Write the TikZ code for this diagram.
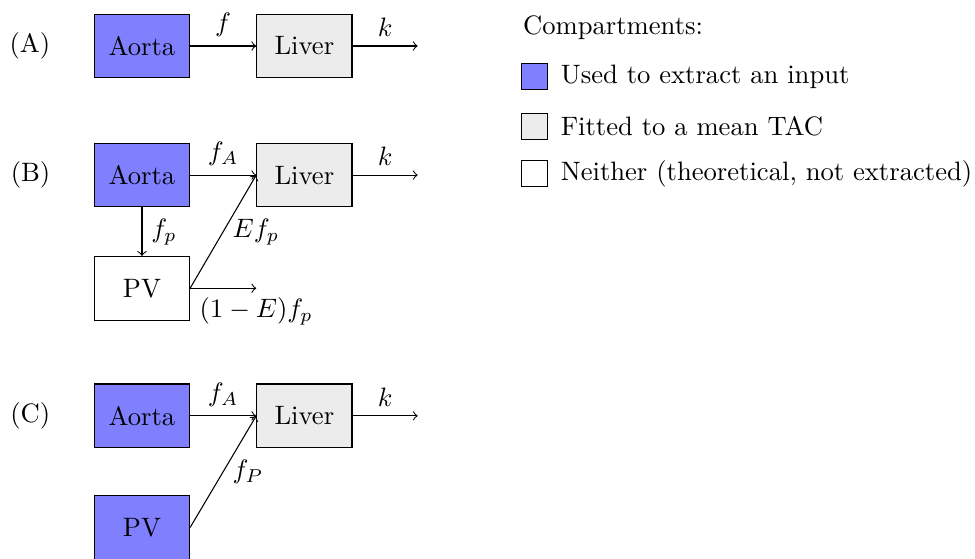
\documentclass[tikz,border=0pt]{standalone}
\usetikzlibrary{positioning}
\begin{document}
\begin{tikzpicture}[
  node distance=0.85cm and 0.873cm,
  comp/.style={draw, minimum width=1.257cm, minimum height=0.84cm, inner sep=3pt},
  input/.style={comp, fill=blue!50},
  fitted/.style={comp, fill=gray!15},
  neither/.style={comp, fill=white},
  swatch/.style={draw, minimum size=0.343cm, inner sep=0pt},
  arr/.style={->}
]
  \useasboundingbox (0,0) rectangle (12.87,-7.366);

  % (A)
  \node[input] (aortaA) at (1.874,-0.607) {Aorta};
  \node[fitted, right=of aortaA] (liverA) {Liver};
  \node[left=0.45cm of aortaA] (labA) {(A)};
  \coordinate[right=0.86cm of liverA] (outA);
  \draw[arr] (aortaA) -- node[above] {$f$} (liverA);
  \draw[arr] (liverA) -- node[above] {$k$} (outA);

  % (B)
  \node[input, below=of aortaA] (aortaB) {Aorta};
  \node[fitted, right=of aortaB] (liverB) {Liver};
  \node[neither, below=0.64cm of aortaB] (pvB) {PV};
  \node[left=0.45cm of aortaB] (labB) {(B)};
  \coordinate[right=0.86cm of liverB] (outB);
  \coordinate[right=0.873cm of pvB] (lossB);
  \draw[arr] (aortaB) -- node[above] {$f_A$} (liverB);
  \draw[arr] (liverB) -- node[above] {$k$} (outB);
  \draw[arr] (aortaB) -- node[right] {$f_p$} (pvB);
  \draw[arr] (pvB.east) -- node[right] {$Ef_p$} (liverB.west);
  \draw[arr] (pvB.east) -- node[below, pos=1] {$(1-E)f_p$} (lossB);

  % (C)
  \node[input, below=0.83cm of pvB] (aortaC) {Aorta};
  \node[fitted, right=of aortaC] (liverC) {Liver};
  \node[input, below=0.62cm of aortaC] (pvC) {PV};
  \node[left=0.45cm of aortaC] (labC) {(C)};
  \coordinate[right=0.86cm of liverC] (outC);
  \draw[arr] (aortaC) -- node[above] {$f_A$} (liverC);
  \draw[arr] (liverC) -- node[above] {$k$} (outC);
  \draw[arr] (pvC.east) -- node[right] {$f_P$} (liverC.west);

  % legend
  \node[anchor=west] (legTitle) at (6.78,-0.37) {Compartments:};
  \node[swatch, fill=blue!50] (swIn) at (7.05,-1.01) {};
  \node[right=0.05cm of swIn] (txtIn) {Used to extract an input};
  \node[swatch, fill=gray!15, below=0.3cm of swIn] (swFit) {};
  \node[right=0.05cm of swFit] (txtFit) {Fitted to a mean TAC};
  \node[swatch, fill=white, below=0.27cm of swFit] (swNo) {};
  \node[right=0.05cm of swNo] (txtNo) {Neither (theoretical, not extracted)};
\end{tikzpicture}
\end{document}
